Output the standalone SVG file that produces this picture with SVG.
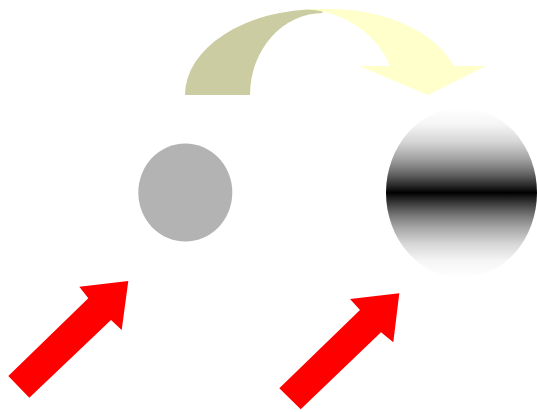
<svg xmlns="http://www.w3.org/2000/svg" width="537" height="412" viewBox="0 0 537 412">
  <style>
    .red-arrow { fill: #ff0000; }
    .arc-back { fill: #cccca3; }
    .arc-front { fill: #ffffcc; }
    .grey { fill: #b3b3b3; }
  </style>
  <defs>
    <linearGradient id="band" x1="0" y1="0" x2="0" y2="1">
      <stop offset="0" stop-color="#ffffff"/>
      <stop offset="0.1" stop-color="#f5f5f5"/>
      <stop offset="0.2" stop-color="#d6d6d6"/>
      <stop offset="0.3" stop-color="#a3a3a3"/>
      <stop offset="0.35" stop-color="#828282"/>
      <stop offset="0.4" stop-color="#5c5c5c"/>
      <stop offset="0.45" stop-color="#303030"/>
      <stop offset="0.5" stop-color="#000000"/>
      <stop offset="0.55" stop-color="#303030"/>
      <stop offset="0.6" stop-color="#5c5c5c"/>
      <stop offset="0.65" stop-color="#828282"/>
      <stop offset="0.7" stop-color="#a3a3a3"/>
      <stop offset="0.8" stop-color="#d6d6d6"/>
      <stop offset="0.9" stop-color="#f5f5f5"/>
      <stop offset="1" stop-color="#ffffff"/>
    </linearGradient>
  </defs>
  <g id="grey-circle">
    <ellipse class="grey" cx="185.3" cy="192.5" rx="47" ry="49"/>
  </g>
  <g id="gradient-circle">
    <ellipse fill="url(#band)" cx="461.5" cy="192.7" rx="75.5" ry="85"/>
  </g>
  <g id="connectors">
    <g id="curved-arrow">
      <path class="arc-back" d="M185,95 A135,86 0 0 1 320,9 L323,13 A73,82 0 0 0 250,95 Z"/>
      <path class="arc-front" d="M300,9 L330,9 A132,86 0 0 1 454,66 L486,66 L428,95 L359,66 L390,66 A95.6,86 0 0 0 300,9 Z"/>
    </g>
    <g id="red-arrow-1">
      <polygon class="red-arrow" points="8.3,376 88.3,298.3 79.3,286.7 128.3,281 121.7,330 111,320 29.3,397.7"/>
    </g>
    <g id="red-arrow-2">
      <polygon class="red-arrow" points="279.3,388.3 360,310 350,299 399.3,293.3 393.3,342.3 381,332.3 300.7,409.3"/>
    </g>
  </g>
</svg>
